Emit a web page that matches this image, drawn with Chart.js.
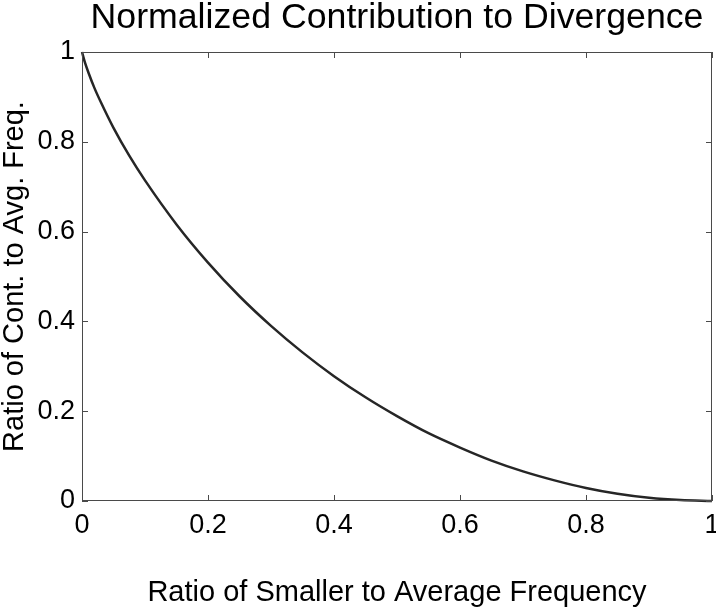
<!DOCTYPE html>
<html>
<head>
<meta charset="utf-8">
<script src="https://cdn.jsdelivr.net/npm/chart.js@4/dist/chart.umd.min.js"></script>
<style>
  html, body { margin: 0; padding: 0; background: #fff; }
  #wrap { width: 716px; height: 608px; }
</style>
</head>
<body>
<div id="wrap"><canvas id="divergenceChart" width="716" height="608"></canvas></div>
<script>
// values
const ratioSmaller = [0, 0.005, 0.01, 0.02, 0.03, 0.05, 0.075, 0.1, 0.15, 0.2, 0.25, 0.3, 0.35, 0.4,
  0.45, 0.5, 0.55, 0.6, 0.65, 0.7, 0.75, 0.8, 0.85, 0.9, 0.95, 1];
const ratioContribution = [1, 0.975, 0.955, 0.919, 0.888, 0.831, 0.769, 0.714, 0.616, 0.531, 0.456, 0.390, 0.331, 0.278,
  0.231, 0.189, 0.151, 0.119, 0.090, 0.066, 0.046, 0.029, 0.016, 0.007, 0.002, 0];

const xTicks = [0, 0.2, 0.4, 0.6, 0.8, 1];
const yTicks = [0, 0.2, 0.4, 0.6, 0.8, 1];
const xTickLabels = ['0', '0.2', '0.4', '0.6', '0.8', '1'];
const yTickLabels = ['0', '0.2', '0.4', '0.6', '0.8', '1'];

const chartTitle = 'Normalized Contribution to Divergence';
const xTitle = 'Ratio of Smaller to Average Frequency';
const yTitle = 'Ratio of Cont. to Avg. Freq.';

const fontFamily = '"Liberation Sans", Arial, Helvetica, sans-serif';
const axisColor = '#4a4a4a';

// box round the plot + small inward ticks, matlab style
const matlabAxes = {
  id: 'matlabAxes',
  afterLayout(chart) {
    // title is centred over the axes box, not the whole canvas
    if (chart.titleBlock) {
      chart.titleBlock.left = chart.chartArea.left;
      chart.titleBlock.right = chart.chartArea.right;
    }
  },
  afterDatasetsDraw(chart) {
    const { ctx, chartArea: a, scales } = chart;
    const len = 6;
    ctx.save();
    ctx.strokeStyle = axisColor;
    ctx.lineWidth = 1;
    ctx.beginPath();
    scales.x.ticks.forEach(t => {
      const px = Math.round(scales.x.getPixelForValue(t.value)) + 0.5;
      ctx.moveTo(px, a.bottom); ctx.lineTo(px, a.bottom - len);
      ctx.moveTo(px, a.top); ctx.lineTo(px, a.top + len);
    });
    scales.y.ticks.forEach(t => {
      const py = Math.round(scales.y.getPixelForValue(t.value)) + 0.5;
      ctx.moveTo(a.left, py); ctx.lineTo(a.left + len, py);
      ctx.moveTo(a.right, py); ctx.lineTo(a.right - len, py);
    });
    ctx.stroke();
    ctx.strokeRect(Math.round(a.left) + 0.5, Math.round(a.top) + 0.5,
      Math.round(a.right - a.left) - 1, Math.round(a.bottom - a.top) - 1);
    ctx.restore();
  }
};

const ctx = document.getElementById('divergenceChart').getContext('2d');

new Chart(ctx, {
  type: 'line',
  data: {
    datasets: [{
      label: 'contribution',
      data: ratioSmaller.map((x, i) => ({ x: x, y: ratioContribution[i] })),
      borderColor: '#262626',
      borderWidth: 2.5,
      pointRadius: 0,
      fill: false,
      cubicInterpolationMode: 'monotone',
      clip: false
    }]
  },
  options: {
    responsive: false,
    animation: false,
    layout: { padding: { left: 0, top: 0, bottom: 0, right: 4 } },
    plugins: {
      legend: { display: false },
      tooltip: { enabled: false },
      title: {
        display: true,
        text: chartTitle,
        color: '#000',
        font: { family: fontFamily, size: 35.7, weight: 'normal', lineHeight: 1 },
        padding: { top: 0, bottom: 16.3 }
      }
    },
    scales: {
      x: {
        type: 'linear',
        min: 0,
        max: 1,
        afterBuildTicks: s => { s.ticks = xTicks.map(v => ({ value: v })); },
        afterFit: s => { s.height = 107; s.paddingLeft = 0; s.paddingRight = 0; },
        grid: { display: false, drawTicks: false },
        border: { display: false },
        ticks: {
          padding: 8,
          color: '#000',
          maxRotation: 0,
          autoSkip: false,
          font: { family: fontFamily, size: 27 },
          callback: (v, i) => xTickLabels[i]
        },
        title: {
          display: true,
          text: xTitle,
          color: '#000',
          font: { family: fontFamily, size: 29, lineHeight: 1 },
          padding: { top: 0, bottom: 1 }
        }
      },
      y: {
        type: 'linear',
        min: 0,
        max: 1,
        afterBuildTicks: s => { s.ticks = yTicks.map(v => ({ value: v })); },
        afterFit: s => { s.width = 82; s.paddingTop = 0; s.paddingBottom = 0; },
        grid: { display: false, drawTicks: false },
        border: { display: false },
        ticks: {
          padding: 7,
          color: '#000',
          autoSkip: false,
          font: { family: fontFamily, size: 27 },
          callback: (v, i) => yTickLabels[i]
        },
        title: {
          display: true,
          text: yTitle,
          color: '#000',
          font: { family: fontFamily, size: 29, lineHeight: 1 },
          padding: 0
        }
      }
    }
  },
  plugins: [matlabAxes]
});
</script>
</body>
</html>
